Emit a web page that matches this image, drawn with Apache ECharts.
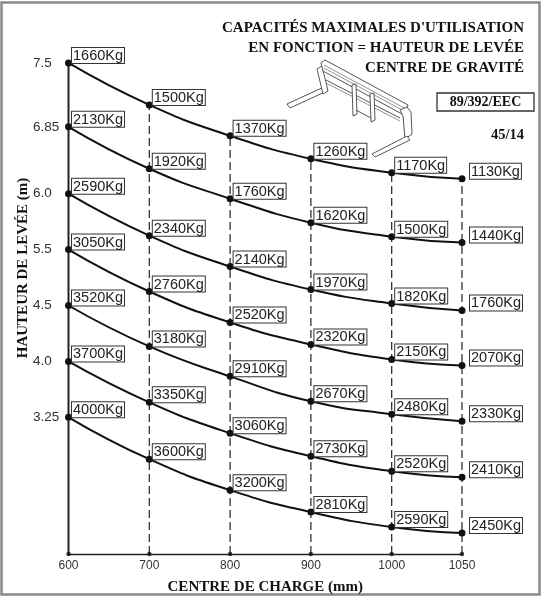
<!DOCTYPE html>
<html>
<head>
<meta charset="utf-8">
<script src="https://cdn.jsdelivr.net/npm/echarts@6/dist/echarts.min.js"></script>
<style>
html,body{margin:0;padding:0;background:#fff;}
#chart{width:545px;height:600px;}
</style>
</head>
<body>
<div id="chart"></div>
<script>
// Centre de charge (mm) – category labels and their (unevenly spaced) positions on the drawing
const centres = ['600', '700', '800', '900', '1000', '1050'];
const centrePos = [0, 1, 2, 3, 4, 4.87];

// Hauteur de levée (m) – one curve per height
const hauteurs = ['7.5', '6.85', '6.0', '5.5', '4.5', '4.0', '3.25'];

// Capacités (Kg) per curve
const charges_75  = [1660, 1500, 1370, 1260, 1170, 1130];
const charges_685 = [2130, 1920, 1760, 1620, 1500, 1440];
const charges_60  = [2590, 2340, 2140, 1970, 1820, 1760];
const charges_55  = [3050, 2760, 2520, 2320, 2150, 2070];
const charges_45  = [3520, 3180, 2910, 2670, 2480, 2330];
const charges_40  = [3700, 3350, 3060, 2730, 2520, 2410];
const charges_325 = [4000, 3600, 3200, 2810, 2590, 2450];

// Vertical position of each point on the (schematic) height scale
const pos_75  = [492, 450, 419, 396, 382, 376];
const pos_685 = [428, 386, 356, 332, 318, 312];
const pos_60  = [361, 319, 288, 265, 251, 244];
const pos_55  = [305, 263, 232, 210, 195, 189];
const pos_45  = [249, 208, 178, 153, 140, 133];
const pos_40  = [193, 152, 121,  98,  83,  77];
const pos_325 = [137,  95,  64,  42,  27,  21];

const allCharges = [charges_75, charges_685, charges_60, charges_55, charges_45, charges_40, charges_325];
const allPos = [pos_75, pos_685, pos_60, pos_55, pos_45, pos_40, pos_325];
const startPos = allPos.map(p => p[0]);

const chart = echarts.init(document.getElementById('chart'), null, {renderer: 'canvas'});

const labelBase = {
  show: true,
  formatter: p => p.data.value[2] + 'Kg',
  fontFamily: 'Liberation Sans',
  fontSize: 14.5,
  lineHeight: 14,
  color: '#222',
  backgroundColor: '#fff',
  borderColor: '#333',
  borderWidth: 1,
  padding: [1, 1, 0, 1],
  position: [7, -11.5]
};

const series = [];

// vertical reference lines (solid at 600, dashed elsewhere)
centrePos.forEach((x, i) => {
  series.push({
    type: 'line',
    data: [[x, 0], [x, pos_75[i]]],
    symbol: 'none',
    silent: true,
    z: 1,
    lineStyle: {color: '#222', width: i === 0 ? 2 : 1.2, type: i === 0 ? 'solid' : [8, 4]}
  });
});

// small dots on the base line
series.push({
  type: 'scatter',
  data: centrePos.map(x => [x, 0]),
  symbolSize: 4.5,
  itemStyle: {color: '#111'},
  silent: true,
  z: 3
});

// capacity curves
allPos.forEach((pos, k) => {
  series.push({
    type: 'line',
    name: hauteurs[k],
    smooth: true,
    symbol: 'circle',
    symbolSize: 7,
    clip: false,
    z: 4,
    lineStyle: {color: '#111', width: 2},
    itemStyle: {color: '#111'},
    data: pos.map((y, i) => ({
      value: [centrePos[i], y, allCharges[k][i]],
      label: i === 5 ? {position: [11.5, -11.5]} : undefined
    })),
    label: labelBase
  });
});

const serif = 'Liberation Serif';

const option = {
  animation: false,
  backgroundColor: '#fff',
  grid: {left: 68.5, right: 83, top: 55, bottom: 45},
  xAxis: {
    type: 'value',
    min: 0,
    max: 4.87,
    axisLine: {show: true, lineStyle: {color: '#222', width: 1.3}},
    axisTick: {show: false},
    splitLine: {show: false},
    axisLabel: {
      customValues: centrePos,
      formatter: v => {
        const i = centrePos.findIndex(c => Math.abs(c - v) < 1e-6);
        return i >= 0 ? centres[i] : '';
      },
      fontFamily: 'Liberation Sans',
      fontSize: 12,
      color: '#333',
      margin: 6
    },
    name: 'CENTRE DE CHARGE (mm)',
    nameLocation: 'middle',
    nameGap: 26,
    nameTextStyle: {fontFamily: serif, fontWeight: 'bold', fontSize: 15, color: '#111'}
  },
  yAxis: {
    type: 'value',
    min: 0,
    max: 500,
    axisLine: {show: false},
    axisTick: {show: false},
    splitLine: {show: false},
    axisLabel: {
      customValues: startPos,
      formatter: v => {
        const i = startPos.findIndex(c => Math.abs(c - v) < 1e-6);
        return i >= 0 ? hauteurs[i] : '';
      },
      fontFamily: 'Liberation Sans',
      fontSize: 13.5,
      color: '#333',
      align: 'left',
      margin: 35.5
    }
  },
  graphic: [
    // outer frame
    {type: 'rect', shape: {x: 1.5, y: 2.5, width: 538, height: 592}, style: {fill: 'none', stroke: '#8a8a8a', lineWidth: 2.5}, z: 0, silent: true},
    // title
    {type: 'text', x: 524, y: 28.5, style: {text: "CAPACITÉS MAXIMALES D'UTILISATION", font: 'bold 15px "Liberation Serif"', fill: '#111', align: 'right', verticalAlign: 'middle'}},
    {type: 'text', x: 524, y: 48, style: {text: 'EN FONCTION = HAUTEUR DE LEVÉE', font: 'bold 15px "Liberation Serif"', fill: '#111', align: 'right', verticalAlign: 'middle'}},
    {type: 'text', x: 524, y: 68, style: {text: 'CENTRE DE GRAVITÉ', font: 'bold 15px "Liberation Serif"', fill: '#111', align: 'right', verticalAlign: 'middle'}},
    // directive box
    {type: 'rect', shape: {x: 437, y: 93, width: 97, height: 18}, style: {fill: '#fff', stroke: '#333', lineWidth: 1.3}},
    {type: 'text', x: 485.5, y: 102.5, style: {text: '89/392/EEC', font: 'bold 14px "Liberation Serif"', fill: '#111', align: 'center', verticalAlign: 'middle'}},
    {type: 'text', x: 524, y: 135.5, style: {text: '45/14', font: 'bold 14.5px "Liberation Serif"', fill: '#111', align: 'right', verticalAlign: 'middle'}},
    // y axis name
    {type: 'text', x: 23, y: 268, rotation: Math.PI / 2, style: {text: 'HAUTEUR DE LEVÉE (m)', font: 'bold 15px "Liberation Serif"', fill: '#111', align: 'center', verticalAlign: 'middle'}},
    // fork carriage sketch
    {type: 'group', silent: true, children: [
      {type: 'polygon', shape: {points: [[287, 104], [290, 108], [327, 91], [324, 87]]}, style: {fill: '#fff', stroke: '#555', lineWidth: 1}},
      {type: 'polygon', shape: {points: [[317, 69], [322, 66], [328, 91], [323, 94]]}, style: {fill: '#fff', stroke: '#555', lineWidth: 1}},
      {type: 'polygon', shape: {points: [[321, 63], [325, 60], [408, 105], [406, 112], [402, 114], [323, 71]]}, style: {fill: '#fff', stroke: '#555', lineWidth: 1}},
      {type: 'polyline', shape: {points: [[324, 65], [406, 109]]}, style: {stroke: '#777', lineWidth: 0.8}},
      {type: 'polyline', shape: {points: [[324, 68], [404, 111]]}, style: {stroke: '#777', lineWidth: 0.8}},
      {type: 'polyline', shape: {points: [[326, 80], [400, 118]]}, style: {stroke: '#555', lineWidth: 1}},
      {type: 'polyline', shape: {points: [[326, 83], [400, 121]]}, style: {stroke: '#777', lineWidth: 0.8}},
      {type: 'polygon', shape: {points: [[352, 85], [356, 84], [357, 114], [353, 116]]}, style: {fill: '#fff', stroke: '#555', lineWidth: 1}},
      {type: 'polygon', shape: {points: [[370, 94], [374, 93], [375, 120], [371, 122]]}, style: {fill: '#fff', stroke: '#555', lineWidth: 1}},
      {type: 'polyline', shape: {points: [[356, 110], [371, 118]]}, style: {stroke: '#555', lineWidth: 1}},
      {type: 'polygon', shape: {points: [[400, 110], [407, 107], [411, 112], [412, 134], [405, 139], [403, 116]]}, style: {fill: '#fff', stroke: '#555', lineWidth: 1}},
      {type: 'polygon', shape: {points: [[372, 154], [375, 157], [410, 140], [407, 136]]}, style: {fill: '#fff', stroke: '#555', lineWidth: 1}}
    ]}
  ],
  series: series
};

chart.setOption(option);
</script>
</body>
</html>
